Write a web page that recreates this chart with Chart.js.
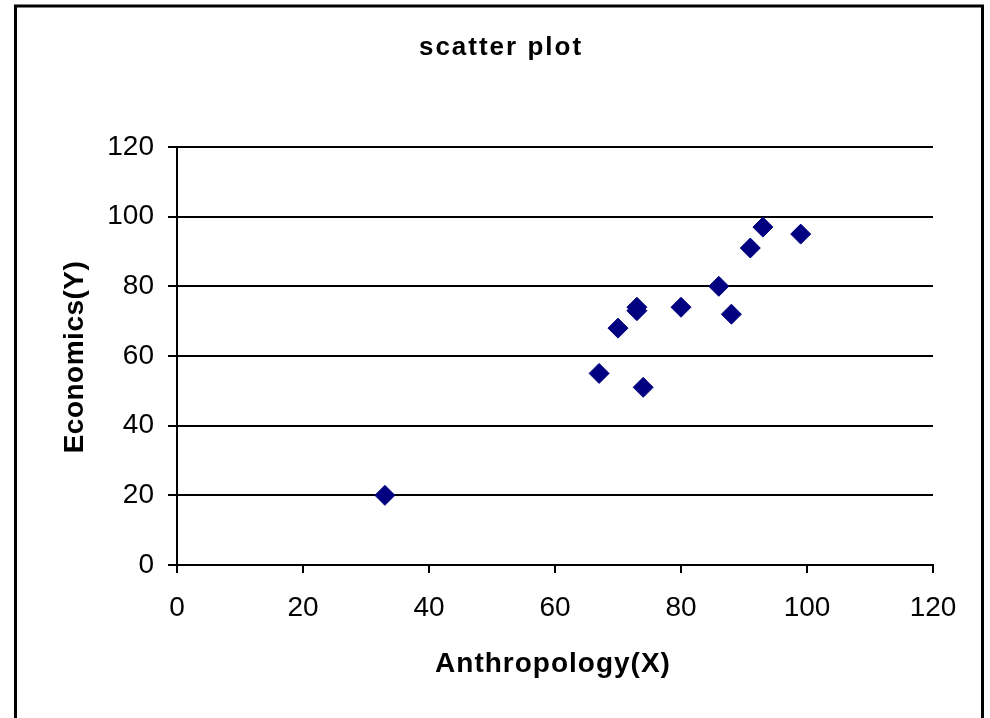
<!DOCTYPE html>
<html lang="en">
<head>
    <meta charset="UTF-8">
    <title>scatter plot</title>
    <script src="https://cdn.jsdelivr.net/npm/chart.js"></script>
    <style>
        body {
            margin: 0;
            background: #fff;
        }
        .container {
            width: 990px;
            height: 718px;
            position: relative;
        }
    </style>
</head>
<body>

<div class="container">
    <canvas id="scatter-graph"></canvas>
</div>

<script>
    // data
    const anthropology = [33, 67, 70, 73, 73, 74, 80, 86, 88, 91, 93, 99];
    const economics = [20, 55, 68, 73, 74, 51, 74, 80, 72, 91, 97, 95];
    const axisTicks = [0, 20, 40, 60, 80, 100, 120];

    const chartTitle = 'scatter plot';
    const xTitle = 'Anthropology(X)';
    const yTitle = 'Economics(Y)';

    const fontFamily = '"Liberation Sans", Arial, sans-serif';

    // frame and titles drawn by hand (letter spacing like the original)
    const frameAndTitles = {
        id: 'frameAndTitles',
        afterDraw(chart) {
            const ctx = chart.ctx;
            ctx.save();
            ctx.strokeStyle = '#000';
            ctx.lineWidth = 3;
            ctx.strokeRect(15.5, 6, 967, 800);

            ctx.fillStyle = '#000';
            ctx.textAlign = 'center';
            ctx.textBaseline = 'middle';

            ctx.font = 'bold 26px ' + fontFamily;
            ctx.letterSpacing = '2px';
            ctx.fillText(chartTitle, 501, 48);

            ctx.font = 'bold 28px ' + fontFamily;
            ctx.letterSpacing = '1px';
            ctx.fillText(xTitle, 553, 664);

            ctx.translate(75, 357);
            ctx.rotate(-Math.PI / 2);
            ctx.letterSpacing = '0.5px';
            ctx.fillText(yTitle, 0, 0);
            ctx.restore();
        }
    };

    const ctx = document.getElementById('scatter-graph').getContext('2d');
    new Chart(ctx, {
        type: 'scatter',
        data: {
            datasets: [{
                label: 'Economics',
                data: anthropology.map((x, i) => ({ x: x, y: economics[i] })),
                pointStyle: 'rectRot',
                radius: 10,
                hoverRadius: 10,
                backgroundColor: '#000080',
                borderColor: '#000080',
                borderWidth: 1
            }]
        },
        options: {
            responsive: true,
            maintainAspectRatio: false,
            animation: false,
            layout: {
                padding: { top: 147, right: 57, left: 0, bottom: 0 }
            },
            plugins: {
                legend: { display: false },
                tooltip: { enabled: false },
                title: { display: false }
            },
            scales: {
                x: {
                    type: 'linear',
                    min: 0,
                    max: 120,
                    afterBuildTicks: (scale) => {
                        scale.ticks = axisTicks.map(v => ({ value: v }));
                    },
                    afterFit: (scale) => { scale.height = 153; },
                    border: { color: '#000', width: 2 },
                    grid: {
                        drawOnChartArea: false,
                        drawTicks: true,
                        tickLength: 8,
                        color: '#000',
                        lineWidth: 2
                    },
                    ticks: {
                        color: '#000',
                        padding: 18,
                        maxRotation: 0,
                        font: { family: fontFamily, size: 28 }
                    }
                },
                y: {
                    type: 'linear',
                    min: 0,
                    max: 120,
                    afterBuildTicks: (scale) => {
                        scale.ticks = axisTicks.map(v => ({ value: v }));
                    },
                    afterFit: (scale) => { scale.width = 177; },
                    border: { color: '#000', width: 2 },
                    grid: {
                        drawTicks: true,
                        tickLength: 9,
                        color: '#000',
                        lineWidth: 2
                    },
                    ticks: {
                        color: '#000',
                        padding: 14,
                        font: { family: fontFamily, size: 28 }
                    }
                }
            }
        },
        plugins: [frameAndTitles]
    });
</script>

</body>
</html>
